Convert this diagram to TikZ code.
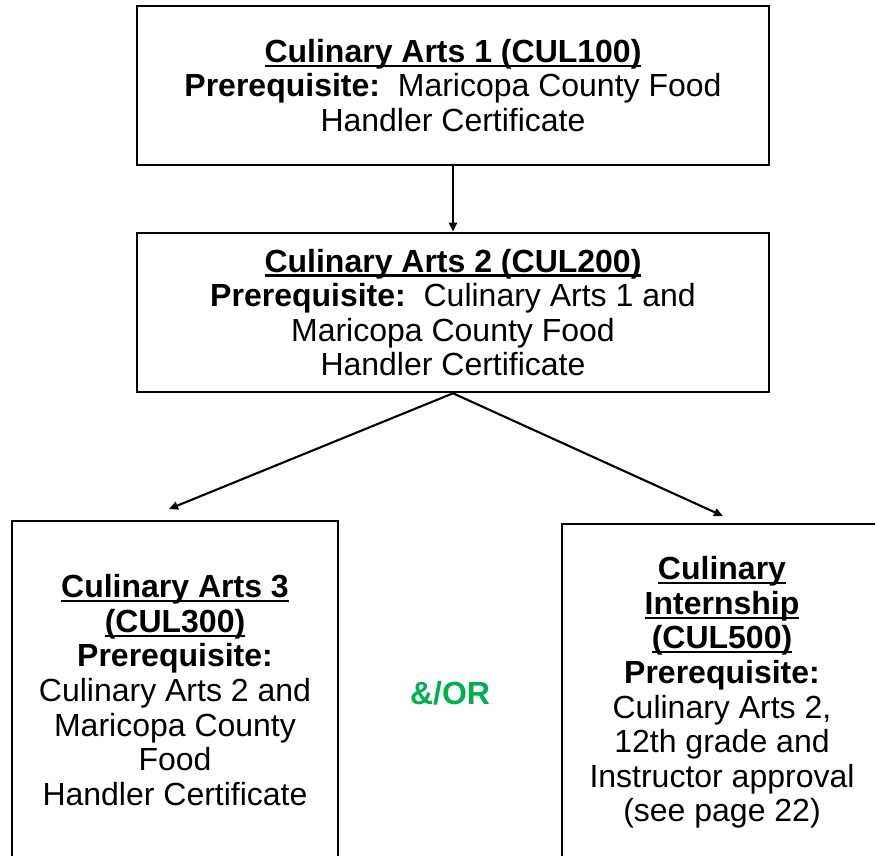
\documentclass[tikz,border=0pt]{standalone}
\usepackage{fontspec}
\setmainfont{Liberation Sans}
\usetikzlibrary{arrows.meta,positioning}
\definecolor{orgreen}{HTML}{00B050}
\newcommand\culul[1]{\setbox0\hbox{#1}\rlap{\vrule width\wd0 height -2.3pt depth 4.6pt}\box0}

\begin{document}
\begin{tikzpicture}[x=1pt,y=-1pt,
  course/.style={draw,line width=2.6pt,align=center,inner sep=0pt,
    font=\fontsize{32}{34.6}\selectfont},
  link/.style={line width=2.1pt,-{Triangle[length=9pt,width=8pt]}}]
  \useasboundingbox (0,0) rectangle (875,856);
  \clip (0,0) rectangle (875,856);

  \node[course,minimum width=632,minimum height=159] (cul1) at (453,85.5)
    {\culul{\textbf{Culinary Arts 1 (CUL100)}}\\
     \textbf{Prerequisite:}\ \ Maricopa County Food\\
     Handler Certificate};
  \node[course,minimum width=632,minimum height=159,below=65.4pt of cul1] (cul2)
    {\culul{\textbf{Culinary Arts 2 (CUL200)}}\\
     \textbf{Prerequisite:}\ \ Culinary Arts 1 and\\
     Maricopa County Food\\
     Handler Certificate};
  \node[course,minimum width=326,minimum height=338] (cul3) at (175,690)
    {\culul{\textbf{Culinary Arts 3}}\\
     \culul{\textbf{(CUL300)}}\\
     \textbf{Prerequisite:}\\
     Culinary Arts 2 and\\
     Maricopa County\\
     Food\\
     Handler Certificate};
  \node[course,minimum width=320,minimum height=337] (cul5) at (722,692.5)
    {\culul{\textbf{Culinary}}\\
     \culul{\textbf{Internship}}\\
     \culul{\textbf{(CUL500)}}\\
     \textbf{Prerequisite:}\\
     Culinary Arts 2,\\
     12th grade and\\
     Instructor approval\\
     (see page 22)};
  \node[font=\fontsize{32}{34.6}\selectfont\bfseries,text=orgreen] (andor) at (450,693) {\&/OR};

  \coordinate (to3) at (169,509);
  \coordinate (to5) at (723,516);
  \draw[link] (cul1) -- (cul2);
  \draw[link] (cul2.south) -- (to3);
  \draw[link] (cul2.south) -- (to5);
\end{tikzpicture}
\end{document}
